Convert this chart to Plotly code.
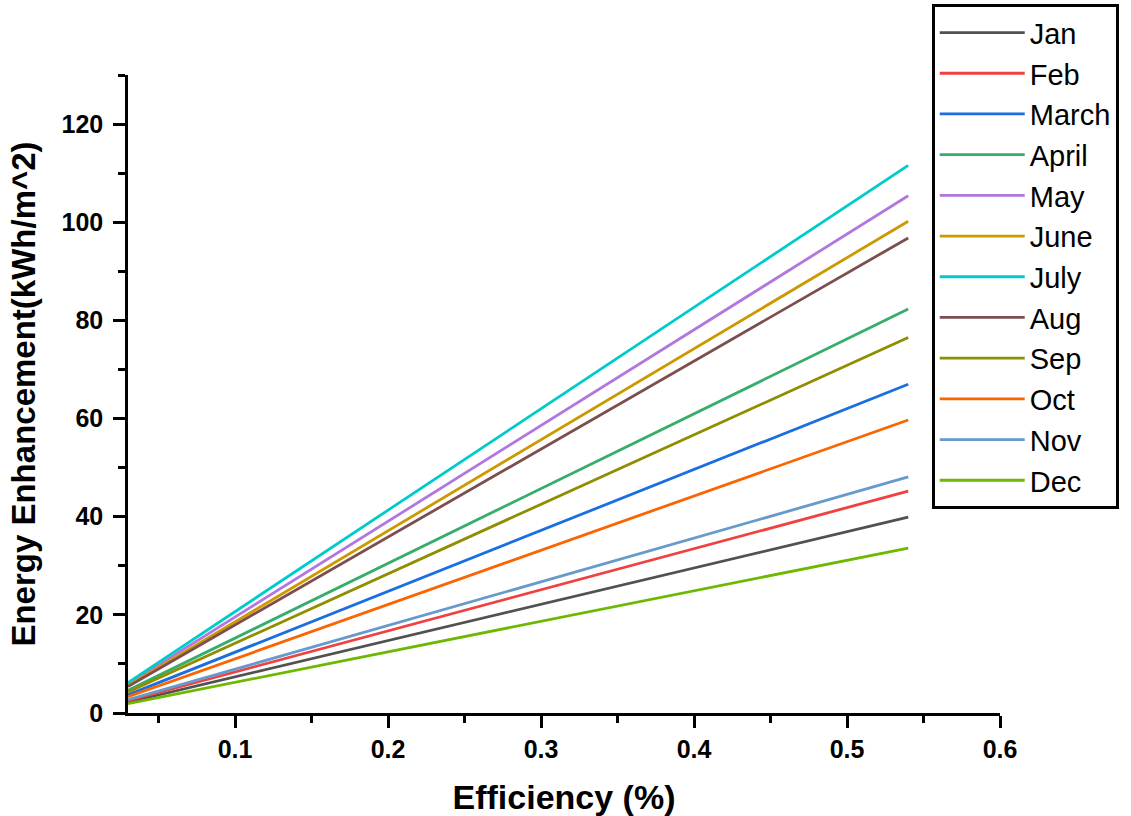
import plotly.graph_objects as go

months = ["Jan", "Feb", "March", "April", "May", "June", "July", "Aug", "Sep", "Oct", "Nov", "Dec"]
efficiency = [0.03, 0.54]
jan = [2.2, 39.9]
feb = [2.5, 45.2]
march = [3.7, 67.0]
april = [4.6, 82.3]
may = [5.9, 105.4]
june = [5.6, 100.2]
july = [6.2, 111.6]
aug = [5.4, 96.8]
sep = [4.3, 76.5]
oct_ = [3.3, 59.7]
nov = [2.7, 48.1]
dec = [1.9, 33.6]
series = [jan, feb, march, april, may, june, july, aug, sep, oct_, nov, dec]
colors = ["#515151", "#F14040", "#1A6FDF", "#37AD6B", "#B177DE", "#CC9900",
          "#00CBCC", "#7D4E4E", "#8E8E00", "#FB6501", "#6699CC", "#6FB802"]

FONT = "Liberation Sans, Arial, sans-serif"

fig = go.Figure()
for name, ys, c in zip(months, series, colors):
    fig.add_trace(go.Scatter(x=efficiency, y=ys, mode="lines", name=name,
                             line=dict(color=c, width=2.8)))

axis_common = dict(
    showline=True, linecolor="black", linewidth=2.5, mirror=False,
    ticks="outside", ticklen=12, tickwidth=2.5, tickcolor="black",
    showgrid=False, zeroline=False,
    tickfont=dict(family=FONT, size=25, color="black", weight="bold"),
)

fig.update_xaxes(range=[0.03, 0.6], tickvals=[0.1, 0.2, 0.3, 0.4, 0.5, 0.6],
                 ticktext=["0.1", "0.2", "0.3", "0.4", "0.5", "0.6"],
                 minor=dict(dtick=0.05, tick0=0, ticks="outside", ticklen=7,
                            tickwidth=2.5, tickcolor="black"),
                 title=dict(text="Efficiency (%)", standoff=24,
                            font=dict(family=FONT, size=34, color="black", weight="bold")),
                 **axis_common)
fig.update_yaxes(range=[0, 130], tickvals=[0, 20, 40, 60, 80, 100, 120],
                 minor=dict(dtick=10, tick0=0, ticks="outside", ticklen=7,
                            tickwidth=2.5, tickcolor="black"),
                 ticklabelstandoff=5,
                 title=dict(text="Energy Enhancement(kWh/m^2)", standoff=16,
                            font=dict(family=FONT, size=33, color="black", weight="bold")),
                 **axis_common)

fig.update_layout(
    width=1131, height=816,
    paper_bgcolor="white", plot_bgcolor="white",
    margin=dict(l=128, r=131, t=75, b=103, autoexpand=False),
    showlegend=True,
    legend=dict(x=0.9217, y=1.111, xanchor="left", yanchor="top",
                bordercolor="black", borderwidth=3, bgcolor="white",
                font=dict(family=FONT, size=29, color="black"),
                tracegroupgap=0, itemwidth=85, maxheight=700),
)

fig.write_html("out.html", config={"displayModeBar": False},
               post_script="document.body.style.margin='0px';")
